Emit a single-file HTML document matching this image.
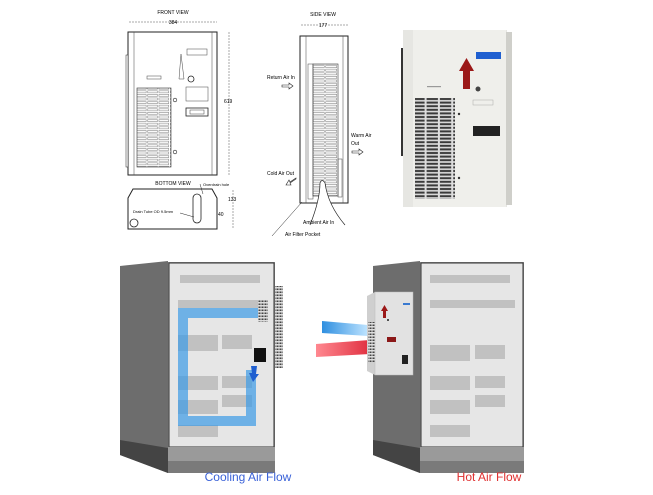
<!DOCTYPE html>
<html><head><style>
html,body{margin:0;padding:0;background:#fff;width:653px;height:495px;overflow:hidden}
svg{display:block}
text{font-family:"Liberation Sans",sans-serif}
</style></head><body>
<svg width="653" height="495" viewBox="0 0 653 495">
<defs>
<pattern id="gr" width="11.3" height="3.6" patternUnits="userSpaceOnUse">
<rect width="11.3" height="3.6" fill="#fff"/><rect x="0.8" y="0.8" width="9.7" height="2" fill="none" stroke="#555" stroke-width="0.4"/>
</pattern>
<pattern id="gr2" width="12.5" height="3.6" patternUnits="userSpaceOnUse">
<rect width="12.5" height="3.6" fill="#fff"/><rect x="0.8" y="0.8" width="10.9" height="2" fill="none" stroke="#555" stroke-width="0.4"/>
</pattern>
<pattern id="pg" width="13.3" height="3.6" patternUnits="userSpaceOnUse">
<rect width="13.3" height="3.6" fill="#ddd"/><rect x="1" y="0.8" width="11.3" height="2" fill="#3a3a3a"/>
</pattern>
<pattern id="sg" width="3" height="3" patternUnits="userSpaceOnUse">
<rect width="3" height="3" fill="#ddd"/><rect x="0.5" y="0.5" width="2" height="1.5" fill="#444"/>
</pattern>
<linearGradient id="blue" x1="0" x2="1"><stop offset="0" stop-color="#2f8fe0"/><stop offset="1" stop-color="#bfe4ff"/></linearGradient>
<linearGradient id="red" x1="0" x2="1"><stop offset="0" stop-color="#ff8890"/><stop offset="1" stop-color="#e03040"/></linearGradient>
</defs>

<!-- FRONT VIEW -->
<text x="173" y="14" font-size="5" text-anchor="middle">FRONT VIEW</text>
<line x1="129" y1="22" x2="217" y2="22" stroke="#555" stroke-width="0.5" stroke-dasharray="2,1"/>
<text x="173" y="24" font-size="5" text-anchor="middle">384</text>
<rect x="128" y="32" width="89" height="143" fill="#fff" stroke="#222" stroke-width="1"/>
<line x1="134" y1="32" x2="134" y2="175" stroke="#444" stroke-width="0.5"/>
<line x1="212" y1="32" x2="212" y2="175" stroke="#444" stroke-width="0.5"/>
<rect x="126" y="55" width="2" height="112" fill="#fff" stroke="#222" stroke-width="0.5"/>
<rect x="187" y="49" width="20" height="6" fill="none" stroke="#444" stroke-width="0.5"/>
<path d="M179 79 L181 54 L184 79Z" fill="none" stroke="#444" stroke-width="0.5"/>
<circle cx="191" cy="79" r="3" fill="none" stroke="#222" stroke-width="0.8"/>
<rect x="147" y="76" width="14" height="3" fill="none" stroke="#444" stroke-width="0.5"/>
<rect x="186" y="87" width="22" height="14" fill="none" stroke="#444" stroke-width="0.5"/>
<rect x="186" y="108" width="22" height="8" fill="none" stroke="#222" stroke-width="0.8"/>
<rect x="190" y="110" width="14" height="4" fill="none" stroke="#444" stroke-width="0.5"/>
<rect x="137" y="88" width="34" height="79" fill="url(#gr)" stroke="#333" stroke-width="0.6"/>
<circle cx="175" cy="100" r="1.8" fill="none" stroke="#222" stroke-width="0.6"/>
<circle cx="175" cy="152" r="1.8" fill="none" stroke="#222" stroke-width="0.6"/>
<line x1="229" y1="32" x2="229" y2="175" stroke="#555" stroke-width="0.5" stroke-dasharray="2,1"/>
<text x="224" y="103" font-size="5">619</text>
<!-- BOTTOM VIEW -->
<text x="173" y="185" font-size="5" text-anchor="middle">BOTTOM VIEW</text>
<path d="M128 198 L133 189 L212 189 L217 198 L217 229 L128 229Z" fill="#fff" stroke="#222" stroke-width="1"/>
<rect x="193" y="194" width="8" height="29" rx="4" fill="none" stroke="#222" stroke-width="0.8"/>
<circle cx="134" cy="223" r="4" fill="none" stroke="#222" stroke-width="0.8"/>
<text x="203" y="186" font-size="4">Overdrain hole</text>
<text x="133" y="213" font-size="4">Drain Tube OD  9.5mm</text>
<line x1="180" y1="213" x2="194" y2="217" stroke="#222" stroke-width="0.5"/>
<line x1="200" y1="184" x2="203" y2="194" stroke="#222" stroke-width="0.5"/>
<line x1="233" y1="190" x2="233" y2="229" stroke="#555" stroke-width="0.5" stroke-dasharray="2,1"/>
<text x="228" y="201" font-size="5">133</text>
<text x="218" y="216" font-size="5">40</text>

<!-- SIDE VIEW -->
<text x="323" y="16" font-size="5" text-anchor="middle">SIDE VIEW</text>
<line x1="301" y1="25" x2="348" y2="25" stroke="#555" stroke-width="0.5" stroke-dasharray="2,1"/>
<text x="323" y="27" font-size="5" text-anchor="middle">177</text>
<rect x="300" y="36" width="48" height="167" fill="#fff" stroke="#222" stroke-width="1"/>
<line x1="306" y1="36" x2="306" y2="203" stroke="#444" stroke-width="0.5"/>
<line x1="343" y1="36" x2="343" y2="203" stroke="#444" stroke-width="0.5"/>
<rect x="308" y="64" width="5" height="135" fill="none" stroke="#444" stroke-width="0.5"/>
<rect x="313" y="64" width="25" height="132" fill="url(#gr2)" stroke="#333" stroke-width="0.6"/>
<rect x="338" y="159" width="4" height="38" fill="none" stroke="#444" stroke-width="0.5"/>
<path d="M310 225 Q320 200 320 183 Q322 178 325 183 Q328 205 345 225" fill="#fff" stroke="#222" stroke-width="0.7"/>
<text x="267" y="79" font-size="5">Return Air In</text>
<path d="M282 85 h7 v-2 l4 3 -4 3 v-2 h-7z" fill="#fff" stroke="#222" stroke-width="0.6"/>
<text x="351" y="137" font-size="5">Warm Air</text>
<text x="351" y="145" font-size="5">Out</text>
<path d="M352 151 h7 v-2 l4 3 -4 3 v-2 h-7z" fill="#fff" stroke="#222" stroke-width="0.6"/>
<text x="267" y="175" font-size="5">Cold Air Out</text>
<path d="M296 178 l-6 4 -1 -2 -3 5 5 0 -1 -2 6 -4z" fill="#fff" stroke="#222" stroke-width="0.6"/>
<text x="303" y="224" font-size="5">Ambient Air In</text>
<text x="285" y="236" font-size="5">Air Filter Pocket</text>
<line x1="272" y1="236" x2="302" y2="202" stroke="#222" stroke-width="0.5"/>

<!-- PHOTO -->
<rect x="401" y="48" width="3" height="108" fill="#333"/>
<rect x="403" y="30" width="104" height="177" fill="#e6e6e2"/>
<rect x="413" y="30" width="93" height="177" fill="#efefeb"/>
<rect x="506" y="32" width="6" height="173" fill="#cfcfca"/>
<rect x="476" y="52" width="25" height="7" fill="#1f5fd0"/>
<path d="M463 89 h7 v-18 h4 l-7.5 -13 -7.5 13 h4z" fill="#9b1818"/>
<circle cx="478" cy="89" r="2.5" fill="#444"/>
<rect x="427" y="86" width="14" height="1.2" fill="#999"/>
<rect x="473" y="100" width="20" height="5" fill="none" stroke="#aaa" stroke-width="0.5"/>
<rect x="473" y="126" width="27" height="10" fill="#222"/>
<rect x="415" y="98" width="40" height="101" fill="url(#pg)"/>
<circle cx="459" cy="114" r="1.2" fill="#333"/>
<circle cx="459" cy="178" r="1.2" fill="#333"/>

<!-- LEFT CABINET -->
<path d="M120 266 L168 261 L168 473 L120 455Z" fill="#6d6d6d"/>
<path d="M120 440 L168 448 L168 473 L120 455Z" fill="#444"/>
<rect x="168" y="262" width="107" height="211" fill="#8a8a8a"/>
<rect x="169" y="263" width="105" height="184" fill="#e6e6e6" stroke="#333" stroke-width="1"/>
<g fill="#bbb" opacity="0.85">
<rect x="180" y="275" width="80" height="8"/><rect x="178" y="300" width="85" height="8"/>
<rect x="178" y="335" width="40" height="16"/><rect x="222" y="335" width="30" height="14"/>
<rect x="178" y="376" width="40" height="14"/><rect x="222" y="376" width="30" height="12"/>
<rect x="178" y="400" width="40" height="14"/><rect x="222" y="395" width="30" height="12"/>
<rect x="178" y="425" width="40" height="12"/>
</g>
<rect x="168" y="447" width="107" height="14" fill="#9a9a9a"/>
<rect x="168" y="461" width="107" height="12" fill="#7a7a7a"/>
<rect x="275" y="286" width="8" height="82" fill="url(#sg)"/>
<rect x="258" y="300" width="10" height="22" fill="url(#sg)"/>
<rect x="254" y="348" width="12" height="14" fill="#111"/>
<path d="M178 308 H258 V318 H188 V416 H246 V370 H256 V426 H178Z" fill="#3a9ae6" opacity="0.7"/>
<path d="M251 366 h6 l-1 8 h3 l-6 8 -4 -9 h3z" fill="#1f5fd0"/>
<text x="248" y="481" font-size="12" fill="#3a62d8" text-anchor="middle">Cooling Air Flow</text>

<!-- RIGHT CABINET -->
<path d="M373 266 L420 261 L420 473 L373 455Z" fill="#6d6d6d"/>
<path d="M373 440 L420 448 L420 473 L373 455Z" fill="#444"/>
<rect x="420" y="262" width="104" height="211" fill="#8a8a8a"/>
<rect x="421" y="263" width="102" height="184" fill="#e6e6e6" stroke="#333" stroke-width="1"/>
<g fill="#bbb" opacity="0.85">
<rect x="430" y="275" width="80" height="8"/><rect x="430" y="300" width="85" height="8"/>
<rect x="430" y="345" width="40" height="16"/><rect x="475" y="345" width="30" height="14"/>
<rect x="430" y="376" width="40" height="14"/><rect x="475" y="376" width="30" height="12"/>
<rect x="430" y="400" width="40" height="14"/><rect x="475" y="395" width="30" height="12"/>
<rect x="430" y="425" width="40" height="12"/>
</g>
<rect x="420" y="447" width="104" height="14" fill="#9a9a9a"/>
<rect x="420" y="461" width="104" height="12" fill="#7a7a7a"/>
<path d="M322 321 L368 325 L368 336 L322 333Z" fill="url(#blue)"/>
<path d="M316 344 L370 340 L370 354 L316 357Z" fill="url(#red)"/>
<path d="M367 296 L375 292 L375 375 L367 371Z" fill="#cfcfcf"/>
<rect x="368" y="322" width="7" height="40" fill="url(#sg)"/>
<rect x="375" y="292" width="38" height="83" fill="#e2e2e2" stroke="#bbb" stroke-width="0.5"/>
<rect x="403" y="303" width="7" height="2" fill="#3a7ad0"/>
<path d="M383 318 h3 v-7 h2 l-3.5 -6 -3.5 6 h2z" fill="#9b1818"/>
<circle cx="388" cy="320" r="1" fill="#222"/>
<rect x="387" y="337" width="9" height="5" fill="#8b1818"/>
<rect x="402" y="355" width="6" height="9" fill="#222"/>
<text x="489" y="481" font-size="12" fill="#e03030" text-anchor="middle">Hot Air Flow</text>
</svg>
</body></html>
